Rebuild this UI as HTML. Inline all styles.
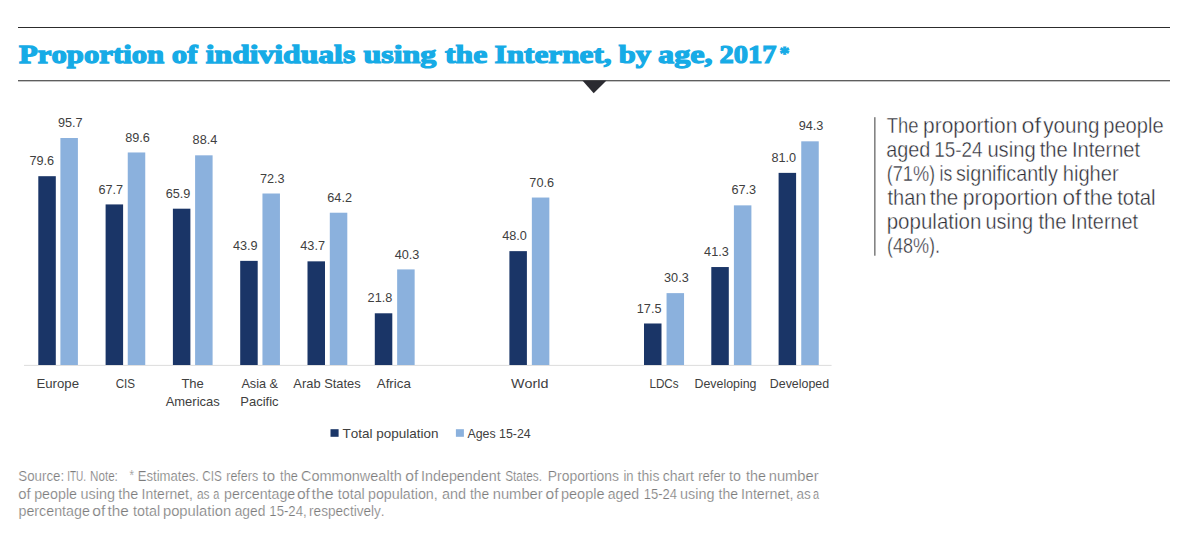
<!DOCTYPE html>
<html><head><meta charset="utf-8"><title>Proportion of individuals using the Internet, by age, 2017</title>
<style>
html,body{margin:0;padding:0;background:#fff;}
body{width:1189px;height:534px;overflow:hidden;position:relative;}
svg{position:absolute;left:0;top:0;display:block;}
text{font-family:"Liberation Sans",sans-serif;font-kerning:none;}
.t{font-family:"Liberation Serif",serif;font-weight:bold;font-size:26px;fill:#16abe6;stroke:#16abe6;stroke-width:1.25px;}
.v{font-size:12.7px;fill:#404040;text-anchor:middle;}
.c{font-size:12.7px;fill:#404040;}
.lg{font-size:13px;fill:#404040;}
.r{font-size:20.6px;fill:#2c2c34;stroke:#fff;stroke-width:0.38px;}
.s{font-size:14.5px;fill:#7c7c7c;stroke:#fff;stroke-width:0.22px;}
</style></head>
<body>
<svg width="1189" height="534" viewBox="0 0 1189 534">
<rect x="18" y="27" width="1152" height="1" fill="#2c2c2c"/>
<text class="t" transform="translate(18.97 63.05) scale(1.1835 1.0)" >Proportion</text>
<text class="t" transform="translate(171.73 63.05) scale(1.1854 1.0)" >of</text>
<text class="t" transform="translate(205.80 63.05) scale(1.2166 1.0)" >individuals</text>
<text class="t" transform="translate(363.52 63.05) scale(1.2284 1.0)" >using</text>
<text class="t" transform="translate(445.09 63.05) scale(1.2155 1.0)" >the</text>
<text class="t" transform="translate(494.55 63.05) scale(1.2018 1.0)" >Internet,</text>
<text class="t" transform="translate(618.81 63.05) scale(1.1758 1.0)" >by</text>
<text class="t" transform="translate(658.06 63.05) scale(1.2366 1.0)" >age,</text>
<text class="t" transform="translate(719.61 63.05) scale(1.0940 1.0)" >2017</text>
<text class="t" transform="translate(779.46 59.75) scale(0.7748 0.7550)">*</text>
<rect x="18" y="80" width="1152" height="1" fill="#5e5e5e"/><rect x="18" y="81" width="1152" height="1" fill="#c4c4c4"/>
<polygon points="582.4,80.5 606.5,80.5 593.7,93.2" fill="#2b2b31"/>
<rect x="24" y="364.9" width="807.6" height="0.9" fill="#d9d9d9"/>
<rect x="38.30" y="176.19" width="17.5" height="188.81" fill="#1a3567"/>
<rect x="60.40" y="138.00" width="17.5" height="227.00" fill="#8bb1dd"/>
<text class="v" x="41.85" y="165.29">79.6</text>
<text class="v" x="70.25" y="127.10">95.7</text>
<rect x="105.60" y="204.42" width="17.5" height="160.58" fill="#1a3567"/>
<rect x="127.75" y="152.47" width="17.5" height="212.53" fill="#8bb1dd"/>
<text class="v" x="110.75" y="193.52">67.7</text>
<text class="v" x="137.60" y="141.57">89.6</text>
<rect x="172.90" y="208.69" width="17.5" height="156.31" fill="#1a3567"/>
<rect x="195.10" y="155.32" width="17.5" height="209.68" fill="#8bb1dd"/>
<text class="v" x="178.05" y="197.79">65.9</text>
<text class="v" x="204.95" y="144.42">88.4</text>
<rect x="240.20" y="260.87" width="17.5" height="104.13" fill="#1a3567"/>
<rect x="262.45" y="193.50" width="17.5" height="171.50" fill="#8bb1dd"/>
<text class="v" x="245.35" y="249.97">43.9</text>
<text class="v" x="272.30" y="182.60">72.3</text>
<rect x="307.50" y="261.34" width="17.5" height="103.66" fill="#1a3567"/>
<rect x="329.80" y="212.72" width="17.5" height="152.28" fill="#8bb1dd"/>
<text class="v" x="312.65" y="250.44">43.7</text>
<text class="v" x="339.65" y="201.82">64.2</text>
<rect x="374.80" y="313.29" width="17.5" height="51.71" fill="#1a3567"/>
<rect x="397.15" y="269.41" width="17.5" height="95.59" fill="#8bb1dd"/>
<text class="v" x="379.95" y="302.39">21.8</text>
<text class="v" x="407.00" y="258.51">40.3</text>
<rect x="509.40" y="251.14" width="17.5" height="113.86" fill="#1a3567"/>
<rect x="531.85" y="197.54" width="17.5" height="167.46" fill="#8bb1dd"/>
<text class="v" x="514.55" y="240.24">48.0</text>
<text class="v" x="541.70" y="186.64">70.6</text>
<rect x="644.00" y="323.49" width="17.5" height="41.51" fill="#1a3567"/>
<rect x="666.55" y="293.13" width="17.5" height="71.87" fill="#8bb1dd"/>
<text class="v" x="649.15" y="312.59">17.5</text>
<text class="v" x="676.40" y="282.23">30.3</text>
<rect x="711.30" y="267.04" width="17.5" height="97.96" fill="#1a3567"/>
<rect x="733.90" y="205.36" width="17.5" height="159.64" fill="#8bb1dd"/>
<text class="v" x="716.45" y="256.14">41.3</text>
<text class="v" x="743.75" y="194.46">67.3</text>
<rect x="778.60" y="172.87" width="17.5" height="192.13" fill="#1a3567"/>
<rect x="801.25" y="141.32" width="17.5" height="223.68" fill="#8bb1dd"/>
<text class="v" x="783.75" y="161.97">81.0</text>
<text class="v" x="811.10" y="130.42">94.3</text>
<text class="c" transform="translate(36.41 388.00) scale(1.0420 1.0)" >Europe</text>
<text class="c" transform="translate(115.71 388.00) scale(0.9176 1.0)" >CIS</text>
<text class="c" transform="translate(181.41 388.00) scale(1.0269 1.0)" >The</text>
<text class="c" transform="translate(165.67 405.80) scale(1.0221 1.0)" >Americas</text>
<text class="c" transform="translate(241.38 388.00) scale(1.0005 1.0)" >Asia &amp;</text>
<text class="c" transform="translate(240.33 405.80) scale(1.0242 1.0)" >Pacific</text>
<text class="c" transform="translate(293.37 388.00) scale(1.0156 1.0)" >Arab States</text>
<text class="c" transform="translate(376.77 388.00) scale(1.0512 1.0)" >Africa</text>
<text class="c" transform="translate(511.04 388.00) scale(1.1273 1.0)" >World</text>
<text class="c" transform="translate(649.44 388.00) scale(0.9188 1.0)" >LDCs</text>
<text class="c" transform="translate(694.58 388.00) scale(0.9743 1.0)" >Developing</text>
<text class="c" transform="translate(769.78 388.00) scale(0.9769 1.0)" >Developed</text>
<rect x="330.5" y="429.2" width="8.1" height="7.6" fill="#1a3567"/>
<rect x="455.9" y="429.2" width="8" height="7.6" fill="#8bb1dd"/>
<text class="lg" transform="translate(342.50 437.80) scale(1.0375 1.0)" >Total population</text>
<text class="lg" transform="translate(467.38 437.80) scale(0.9533 1.0)" >Ages 15-24</text>
<rect x="874" y="117.2" width="1.6" height="138.5" fill="#848484"/>
<text class="r" transform="translate(886.69 133.40) scale(0.8939 1.04)" >The</text>
<text class="r" transform="translate(923.05 133.40) scale(1.0167 1.04)" >proportion</text>
<text class="r" transform="translate(1021.42 133.40) scale(1.1318 1.04)" >of</text>
<text class="r" transform="translate(1043.15 133.40) scale(1.0046 1.04)" >young</text>
<text class="r" transform="translate(1103.20 133.40) scale(0.9779 1.04)" >people</text>
<text class="r" transform="translate(886.26 157.40) scale(0.9605 1.04)" >aged</text>
<text class="r" transform="translate(934.26 157.40) scale(0.9166 1.04)" >15-24</text>
<text class="r" transform="translate(987.39 157.40) scale(0.9811 1.04)" >using</text>
<text class="r" transform="translate(1039.69 157.40) scale(0.9814 1.04)" >the</text>
<text class="r" transform="translate(1072.05 157.40) scale(0.9734 1.04)" >Internet</text>
<text class="r" transform="translate(886.67 181.40) scale(0.8818 1.04)" >(71%)</text>
<text class="r" transform="translate(939.62 181.40) scale(0.8546 1.04)" >is</text>
<text class="r" transform="translate(955.95 181.40) scale(0.9569 1.04)" >significantly</text>
<text class="r" transform="translate(1062.70 181.40) scale(0.9785 1.04)" >higher</text>
<text class="r" transform="translate(887.50 205.40) scale(0.9728 1.04)" >than</text>
<text class="r" transform="translate(929.69 205.40) scale(0.9996 1.04)" >the</text>
<text class="r" transform="translate(962.74 205.40) scale(1.0256 1.04)" >proportion</text>
<text class="r" transform="translate(1062.45 205.40) scale(1.0951 1.04)" >of</text>
<text class="r" transform="translate(1083.99 205.40) scale(1.0069 1.04)" >the</text>
<text class="r" transform="translate(1117.19 205.40) scale(0.9880 1.04)" >total</text>
<text class="r" transform="translate(886.68 229.40) scale(0.9967 1.04)" >population</text>
<text class="r" transform="translate(985.51 229.40) scale(0.9661 1.04)" >using</text>
<text class="r" transform="translate(1038.39 229.40) scale(0.9814 1.04)" >the</text>
<text class="r" transform="translate(1070.77 229.40) scale(0.9645 1.04)" >Internet</text>
<text class="r" transform="translate(886.88 253.40) scale(0.8780 1.04)" >(48%).</text>
<text class="s" transform="translate(18.29 481.30) scale(0.9190 1.0)" >Source:</text>
<text class="s" transform="translate(67.17 481.30) scale(0.6916 1.0)" >ITU.</text>
<text class="s" transform="translate(90.05 481.30) scale(0.8026 1.0)" >Note:</text>
<text class="s" transform="translate(129.42 480.49) scale(0.7911 1.0215)">*</text>
<text class="s" transform="translate(137.72 481.30) scale(0.9053 1.0)" >Estimates.</text>
<text class="s" transform="translate(202.30 481.30) scale(0.8081 1.0)" >CIS</text>
<text class="s" transform="translate(226.27 481.30) scale(0.8601 1.0)" >refers</text>
<text class="s" transform="translate(262.57 481.30) scale(1.0387 1.0)" >to</text>
<text class="s" transform="translate(280.11 481.30) scale(0.8811 1.0)" >the</text>
<text class="s" transform="translate(300.96 481.30) scale(1.0014 1.0)" >Commonwealth</text>
<text class="s" transform="translate(405.34 481.30) scale(1.0778 1.0)" >of</text>
<text class="s" transform="translate(421.08 481.30) scale(0.9875 1.0)" >Independent</text>
<text class="s" transform="translate(505.16 481.30) scale(0.8157 1.0)" >States.</text>
<text class="s" transform="translate(547.76 481.30) scale(0.9608 1.0)" >Proportions</text>
<text class="s" transform="translate(623.43 481.30) scale(0.8961 1.0)" >in</text>
<text class="s" transform="translate(637.59 481.30) scale(0.9670 1.0)" >this</text>
<text class="s" transform="translate(662.70 481.30) scale(0.9710 1.0)" >chart</text>
<text class="s" transform="translate(698.13 481.30) scale(0.9053 1.0)" >refer</text>
<text class="s" transform="translate(729.08 481.30) scale(0.9854 1.0)" >to</text>
<text class="s" transform="translate(745.98 481.30) scale(0.9900 1.0)" >the</text>
<text class="s" transform="translate(768.72 481.30) scale(1.0154 1.0)" >number</text>
<text class="s" transform="translate(18.28 498.65) scale(1.0256 1.0)" >of</text>
<text class="s" transform="translate(34.18 498.65) scale(0.9842 1.0)" >people</text>
<text class="s" transform="translate(80.56 498.65) scale(0.9943 1.0)" >using</text>
<text class="s" transform="translate(118.28 498.65) scale(0.9952 1.0)" >the</text>
<text class="s" transform="translate(141.61 498.65) scale(0.9632 1.0)" >Internet,</text>
<text class="s" transform="translate(196.89 498.65) scale(0.8254 1.0)" >as</text>
<text class="s" transform="translate(213.14 498.65) scale(0.7519 1.0)" >a</text>
<text class="s" transform="translate(224.08 498.65) scale(0.9806 1.0)" >percentage</text>
<text class="s" transform="translate(296.94 498.65) scale(1.0778 1.0)" >of</text>
<text class="s" transform="translate(311.46 498.65) scale(1.0988 1.0)" >the</text>
<text class="s" transform="translate(337.78 498.65) scale(0.9841 1.0)" >total</text>
<text class="s" transform="translate(367.98 498.65) scale(0.9838 1.0)" >population,</text>
<text class="s" transform="translate(441.99 498.65) scale(0.9937 1.0)" >and</text>
<text class="s" transform="translate(469.99 498.65) scale(0.9537 1.0)" >the</text>
<text class="s" transform="translate(492.72 498.65) scale(1.0175 1.0)" >number</text>
<text class="s" transform="translate(545.54 498.65) scale(1.0778 1.0)" >of</text>
<text class="s" transform="translate(560.96 498.65) scale(1.0009 1.0)" >people</text>
<text class="s" transform="translate(607.80 498.65) scale(0.9705 1.0)" >aged</text>
<text class="s" transform="translate(643.71 498.65) scale(0.8972 1.0)" >15-24</text>
<text class="s" transform="translate(680.06 498.65) scale(0.9943 1.0)" >using</text>
<text class="s" transform="translate(718.59 498.65) scale(0.9693 1.0)" >the</text>
<text class="s" transform="translate(740.98 498.65) scale(0.9870 1.0)" >Internet,</text>
<text class="s" transform="translate(796.43 498.65) scale(0.9313 1.0)" >as</text>
<text class="s" transform="translate(812.94 498.65) scale(0.7519 1.0)" >a</text>
<text class="s" transform="translate(18.48 516.00) scale(0.9834 1.0)" >percentage</text>
<text class="s" transform="translate(92.34 516.00) scale(1.0778 1.0)" >of</text>
<text class="s" transform="translate(107.57 516.00) scale(1.0574 1.0)" >the</text>
<text class="s" transform="translate(133.08 516.00) scale(0.9879 1.0)" >total</text>
<text class="s" transform="translate(162.95 516.00) scale(1.0193 1.0)" >population</text>
<text class="s" transform="translate(234.71 516.00) scale(0.9509 1.0)" >aged</text>
<text class="s" transform="translate(269.30 516.00) scale(0.9094 1.0)" >15-24,</text>
<text class="s" transform="translate(309.10 516.00) scale(0.9374 1.0)" >respectively.</text>
</svg>
</body></html>
